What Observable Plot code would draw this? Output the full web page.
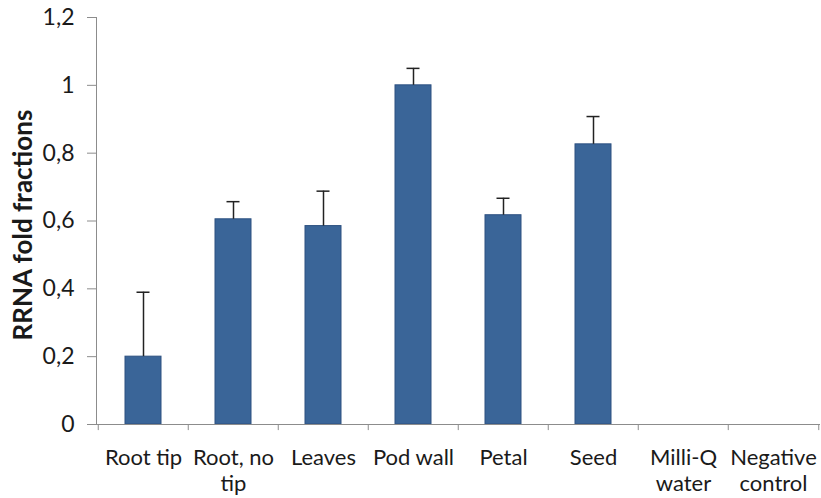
<!DOCTYPE html>
<html><head><meta charset="utf-8">
<script src="https://cdn.jsdelivr.net/npm/d3@7"></script>
<script src="https://cdn.jsdelivr.net/npm/@observablehq/plot@0.6"></script>
<style>body{margin:0;background:#fff;}</style>
</head><body><div id="chart"></div>
<script>
const categories = ["Root tip","Root, no tip","Leaves","Pod wall","Petal","Seed","Milli-Q water","Negative control"];
const tickLabels = ["Root tip","Root, no\ntip","Leaves","Pod wall","Petal","Seed","Milli-Q\nwater","Negative\ncontrol"];
const values = [0.20, 0.605, 0.585, 1.00, 0.617, 0.826, 0, 0];
const errorTops = [0.39, 0.657, 0.688, 1.05, 0.667, 0.908, null, null];
const yTicks = [0, 0.2, 0.4, 0.6, 0.8, 1, 1.2];
const yTitle = "RRNA fold fractions";

const data = categories.map((c, i) => ({category: c, value: values[i], top: errorTops[i]}));
const withErr = data.filter(d => d.top != null);
const W = 821, H = 498, mL = 96, mR = 1, mT = 17, mB = 74;
const step = (W - mL - mR) / categories.length;
const labelOf = new Map(categories.map((c, i) => [c, tickLabels[i]]));
const fmt = d => String(d).replace(".", ",");
const axisGray = "#8c8c8c";

const chart = Plot.plot({
  width: W, height: H, marginLeft: mL, marginRight: mR, marginTop: mT, marginBottom: mB,
  style: {fontFamily: "Lato, sans-serif", fontSize: "22px", color: "#1a1a1a", background: "#fff"},
  x: {domain: categories, paddingInner: 0.6, paddingOuter: 0.3, axis: null},
  y: {domain: [0, 1.2], axis: null},
  marks: [
    Plot.barY(data, {x: "category", y: "value", fill: "#3a6598", stroke: "#2c5080", strokeWidth: 1}),
    Plot.ruleX(withErr, {x: "category", y1: "value", y2: "top", stroke: "#222", strokeWidth: 1.5}),
    Plot.tickY(withErr, {x: "category", y: "top", stroke: "#222", strokeWidth: 1.5, insetLeft: 11.5, insetRight: 11.5}),
    Plot.frame({anchor: "left", stroke: axisGray}),
    Plot.ruleY([0], {stroke: axisGray}),
    Plot.ruleX(categories, {x: d => d, y1: 0, y2: -0.018, dx: -step / 2, stroke: axisGray}),
    Plot.ruleX(categories.slice(-1), {x: d => d, y1: 0, y2: -0.018, dx: step / 2, stroke: axisGray}),
    Plot.axisY({ticks: yTicks, tickFormat: fmt, tickSize: 9, tickPadding: 13, stroke: axisGray, label: null, fontSize: 23}),
    Plot.axisX({tickFormat: d => labelOf.get(d), tickSize: 0, tickPadding: 21, label: null, lineHeight: 1.22, fontSize: 22}),
    Plot.text([yTitle], {text: d => d, frameAnchor: "left", textAnchor: "middle", dx: -73, dy: 4, rotate: -90, fontWeight: "bold", fontSize: 26})
  ]
});
document.getElementById("chart").appendChild(chart);
</script>
</body></html>
